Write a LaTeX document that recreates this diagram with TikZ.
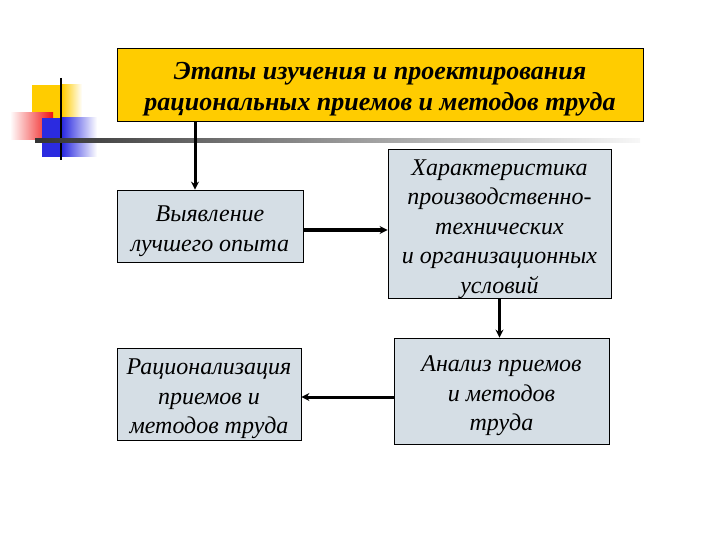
\documentclass[tikz,border=0pt]{standalone}
\usepackage{fontspec}
\setmainfont{Liberation Serif}
\usetikzlibrary{arrows.meta}

\definecolor{titleyellow}{HTML}{FFCC00}
\definecolor{boxgray}{HTML}{D5DEE5}
\definecolor{decoblue}{HTML}{2B2BE0}
\definecolor{decored}{HTML}{F01010}

% taller first line, so the text sits a little lower in its box
\newcommand{\lift}{\rule{0pt}{26pt}}

\tikzset{
  stagebox/.style={draw=black, line width=0.8pt, fill=boxgray, align=center,
    inner sep=0pt, font=\fontsize{24}{29.5}\selectfont\itshape},
  link/.style={draw=black, line width=3pt, -{Stealth[length=8pt,width=8pt]}}
}

\begin{document}
\begin{tikzpicture}[x=1pt,y=-1pt]
\useasboundingbox (0,0) rectangle (720,540);

% decorative squares
\fill[titleyellow] (32,85) rectangle (62,118);
\shade[left color=titleyellow, right color=white] (62,85) rectangle (82,118);
\shade[left color=white, right color=decored] (10,113) rectangle (53,140);
\fill[decoblue] (42,118) rectangle (62,157);
\shade[left color=decoblue, right color=white] (62,118) rectangle (97,157);
\draw[line width=2.5pt] (61,78) -- (61,160);
\shade[left color=black!80, right color=black!3] (35,139) rectangle (640,142.5);

% title
\node[draw=black, line width=0.8pt, fill=titleyellow, minimum width=526pt,
  minimum height=73pt, inner sep=0pt, align=center,
  font=\fontsize{26}{31}\selectfont\bfseries\itshape] (title) at (380,84.5)
  {\lift Этапы изучения и проектирования\\рациональных приемов и методов труда};

% stages
\node[stagebox, minimum width=186pt, minimum height=72pt] (best) at (210,226)
  {\lift Выявление\\лучшего опыта};
\node[stagebox, minimum width=223pt, minimum height=148pt] (cond) at (499.5,224)
  {\lift Характеристика\\производственно-\\технических\\и организационных\\условий};
\node[stagebox, minimum width=215pt, minimum height=106pt] (anal) at (501.5,391)
  {\lift Анализ приемов\\и методов\\труда};
\node[stagebox, minimum width=184pt, minimum height=92pt] (rat) at (209,394)
  {\lift Рационализация\\приемов и\\методов труда};

% arrows
\draw[link] (195,0 |- title.south) -- (195,0 |- best.north);
\draw[link] ([yshift=-4pt]best.east) -- ([yshift=-4pt]best.east -| cond.west);
\draw[link] (cond.south) -- (cond.south |- anal.north);
\draw[link] ([yshift=-3pt]rat.east -| anal.west) -- ([yshift=-3pt]rat.east);

\end{tikzpicture}
\end{document}
